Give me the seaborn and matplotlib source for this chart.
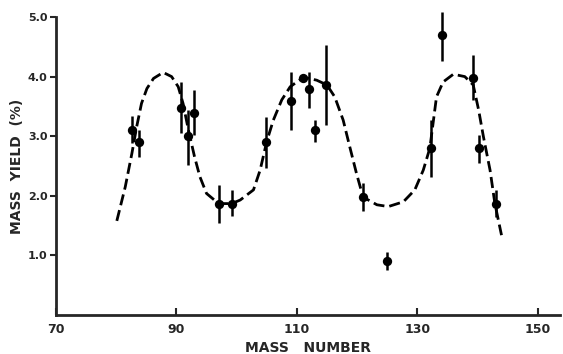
import numpy as np
import pandas as pd
import matplotlib
matplotlib.use('Agg')
import matplotlib.pyplot as plt
import seaborn as sns

# ── Data ───────────────────────────────────────────────────────────────────
mass_number = [82.7, 83.8, 90.8, 91.9, 92.9, 97.0, 99.2, 104.9, 109.1, 111.1,
               112.1, 113.0, 114.9, 121.0, 125.0, 132.3, 134.1, 139.3, 140.2, 143.1]
mass_yield  = [3.10, 2.91, 3.48, 3.00, 3.39, 1.87, 1.87, 2.91, 3.59, 3.98,
               3.79, 3.10, 3.86, 1.98, 0.91, 2.80, 4.70, 3.97, 2.80, 1.86]
yield_hi    = [3.34, 3.10, 3.91, 3.44, 3.77, 2.18, 2.10, 3.33, 4.08, 4.02,
               4.08, 3.27, 4.53, 2.22, 1.06, 3.27, 5.09, 4.37, 3.02, 2.10]
yield_lo    = [2.89, 2.65, 3.05, 2.52, 3.02, 1.55, 1.66, 2.46, 3.10, 3.94,
               3.47, 2.91, 3.19, 1.74, 0.76, 2.32, 4.26, 3.61, 2.55, 1.65]

# dashed curve
curve_x = [80.1, 81.5, 82.6, 83.4, 84.2, 85.1, 86.2, 87.8, 89.2, 90.3,
           91.1, 92.0, 93.0, 93.9, 95.0, 97.0, 99.2, 100.6, 102.8, 103.9,
           105.0, 106.1, 107.5, 108.9, 111.1, 113.3, 115.0, 116.3, 117.7,
           118.8, 119.9, 121.0, 123.3, 125.2, 127.7, 129.6, 131.0, 132.1,
           132.7, 133.2, 134.3, 136.0, 137.9, 139.3, 140.2, 141.0, 142.1,
           142.9, 144.0]
curve_y = [1.58, 2.15, 2.71, 3.16, 3.55, 3.80, 3.97, 4.07, 4.00, 3.83,
           3.55, 3.10, 2.66, 2.32, 2.04, 1.87, 1.87, 1.93, 2.10, 2.43,
           2.91, 3.27, 3.61, 3.83, 3.99, 3.94, 3.86, 3.66, 3.27,
           2.82, 2.38, 1.98, 1.85, 1.82, 1.90, 2.10, 2.43, 2.80,
           3.27, 3.66, 3.91, 4.04, 4.00, 3.86, 3.44, 2.99, 2.43,
           1.87, 1.34]

x_ticks = [70, 90, 110, 130, 150]
y_ticks = [1.0, 2.0, 3.0, 4.0, 5.0]

pts   = pd.DataFrame({'mass': mass_number, 'yield': mass_yield})
curve = pd.DataFrame({'mass': curve_x, 'yield': curve_y})

# ── Plot ───────────────────────────────────────────────────────────────────
sns.set_style('ticks')
plt.rcParams['font.family'] = ['DejaVu Sans']
plt.rcParams['font.weight'] = 'bold'

fig = plt.figure(figsize=(5.63, 3.54), dpi=100)
ax = fig.add_axes([0.0995, 0.110, 0.895, 0.842])

sns.lineplot(data=curve, x='mass', y='yield', ax=ax, color='black',
             linewidth=2.0, dashes=False, sort=False)
ax.lines[-1].set_dashes([4, 1.8])
ax.lines[-1].set_solid_joinstyle('round')
ax.lines[-1].set_dash_joinstyle('round')

err = [np.array(mass_yield) - np.array(yield_lo),
       np.array(yield_hi) - np.array(mass_yield)]
ax.errorbar(mass_number, mass_yield, yerr=err, fmt='none', ecolor='black',
            elinewidth=1.8, capsize=0, clip_on=False)
sns.scatterplot(data=pts, x='mass', y='yield', ax=ax, color='black',
                s=45, edgecolor='black', linewidth=0, zorder=5, clip_on=False)

ax.set_xlim(70, 153.7)
ax.set_ylim(0, 5.0)
ax.set_xticks(x_ticks)
ax.set_xticklabels([str(t) for t in x_ticks], fontsize=9, fontweight='bold')
ax.set_yticks(y_ticks)
ax.set_yticklabels([f'{t:.1f}' for t in y_ticks], fontsize=8, fontweight='bold')
ax.tick_params(axis='x', direction='in', length=5, width=1.5, pad=6)
ax.tick_params(axis='y', direction='out', length=4, width=1.5, pad=2)

sns.despine(ax=ax)
for s in ['left', 'bottom']:
    ax.spines[s].set_linewidth(2.0)

ax.set_xlabel('MASS   NUMBER', fontsize=10, fontweight='bold', labelpad=3)
ax.set_ylabel('MASS  YIELD  (%)', fontsize=10, fontweight='bold', labelpad=3)

fig.savefig('out.png', dpi=100)
plt.close(fig)
